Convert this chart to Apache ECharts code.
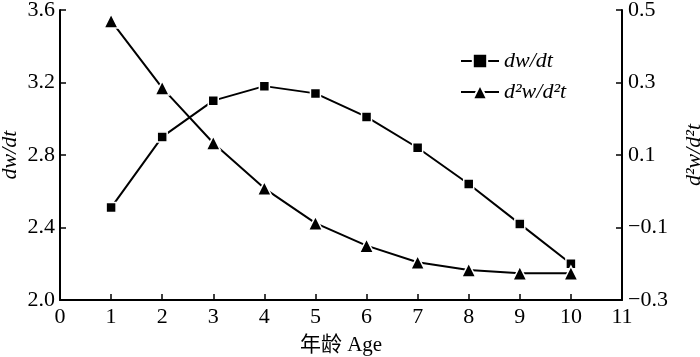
<!DOCTYPE html>
<html>
<head>
<meta charset="utf-8">
<script src="https://cdn.jsdelivr.net/npm/echarts@6/dist/echarts.min.js"></script>
<style>
html,body{margin:0;padding:0;background:#fff;}
#main{width:700px;height:357px;}
</style>
</head>
<body>
<div id="main"></div>
<script>
var ages = [1, 2, 3, 4, 5, 6, 7, 8, 9, 10];
var dwdt = [2.51, 2.90, 3.10, 3.18, 3.14, 3.01, 2.84, 2.64, 2.42, 2.20];
var d2wd2t = [0.47, 0.285, 0.133, 0.008, -0.088, -0.15, -0.196, -0.217, -0.226, -0.226];

function pairs(xs, ys){
    var out = [];
    for (var i = 0; i < xs.length; i++) out.push([xs[i], ys[i]]);
    return out;
}

var font = '"Liberation Serif", "Times New Roman", serif';
var cjk = '"Liberation Serif", "Noto Sans CJK SC", serif';

var myChart = echarts.init(document.getElementById('main'));

var option = {
    animation: false,
    backgroundColor: '#fff',
    grid: {left: 60, right: 78, top: 10, bottom: 57, containLabel: false, outerBoundsMode: 'none'},
    legend: {
        orient: 'vertical',
        left: 455,
        top: 45,
        itemWidth: 38,
        itemHeight: 18,
        itemGap: 9,
        textStyle: {fontFamily: font, fontStyle: 'italic', fontSize: 22, color: '#000'},
        data: ['dw/dt', 'd\u00b2w/d\u00b2t']
    },
    xAxis: {
        type: 'value',
        min: 0, max: 11, interval: 1,
        name: '年龄 Age',
        nameLocation: 'middle',
        nameGap: 35,
        nameMoveOverlap: false,
        nameTextStyle: {fontFamily: cjk, fontSize: 21, color: '#000'},
        axisLine: {onZero: false, lineStyle: {color: '#000', width: 2}},
        axisTick: {inside: true, length: 6, lineStyle: {color: '#000', width: 1.5}},
        axisLabel: {fontFamily: font, fontSize: 22, color: '#000', margin: 6},
        splitLine: {show: false}
    },
    yAxis: [
        {
            type: 'value',
            min: 2.0, max: 3.6, interval: 0.4,
            name: 'dw/dt',
            nameLocation: 'middle',
            nameGap: 39,
            nameMoveOverlap: false,
            nameRotate: 90,
            nameTextStyle: {fontFamily: font, fontStyle: 'italic', fontSize: 22, color: '#000'},
            axisLine: {show: true, onZero: false, lineStyle: {color: '#000', width: 2}},
            axisTick: {inside: true, length: 6, lineStyle: {color: '#000', width: 1.5}},
            axisLabel: {fontFamily: font, fontSize: 22, color: '#000', margin: 5,
                formatter: function(v){ return v.toFixed(1); }},
            splitLine: {show: false}
        },
        {
            type: 'value',
            position: 'right',
            min: -0.3, max: 0.5, interval: 0.2,
            name: 'd\u00b2w/d\u00b2t',
            nameLocation: 'middle',
            nameGap: 61,
            nameMoveOverlap: false,
            nameRotate: 90,
            nameTextStyle: {fontFamily: font, fontStyle: 'italic', fontSize: 22, color: '#000'},
            axisLine: {show: true, onZero: false, lineStyle: {color: '#000', width: 2}},
            axisTick: {inside: true, length: 6, lineStyle: {color: '#000', width: 1.5}},
            axisLabel: {fontFamily: font, fontSize: 22, color: '#000', margin: 6,
                formatter: function(v){ return v.toFixed(1).replace('-', '\u2212'); }},
            splitLine: {show: false}
        }
    ],
    series: [
        {
            name: 'dw/dt',
            type: 'line',
            yAxisIndex: 0,
            symbol: 'rect',
            symbolSize: 10,
            showAllSymbol: true,
            lineStyle: {color: '#000', width: 2},
            itemStyle: {color: '#000', borderColor: '#fff', borderWidth: 1.5},
            data: pairs(ages, dwdt)
        },
        {
            name: 'd\u00b2w/d\u00b2t',
            type: 'line',
            yAxisIndex: 1,
            symbol: 'triangle',
            symbolSize: 14,
            showAllSymbol: true,
            lineStyle: {color: '#000', width: 2},
            itemStyle: {color: '#000', borderColor: '#fff', borderWidth: 1.5},
            data: pairs(ages, d2wd2t)
        }
    ]
};
myChart.setOption(option);
window.addEventListener('resize', function(){ myChart.resize(); });
</script>
</body>
</html>
